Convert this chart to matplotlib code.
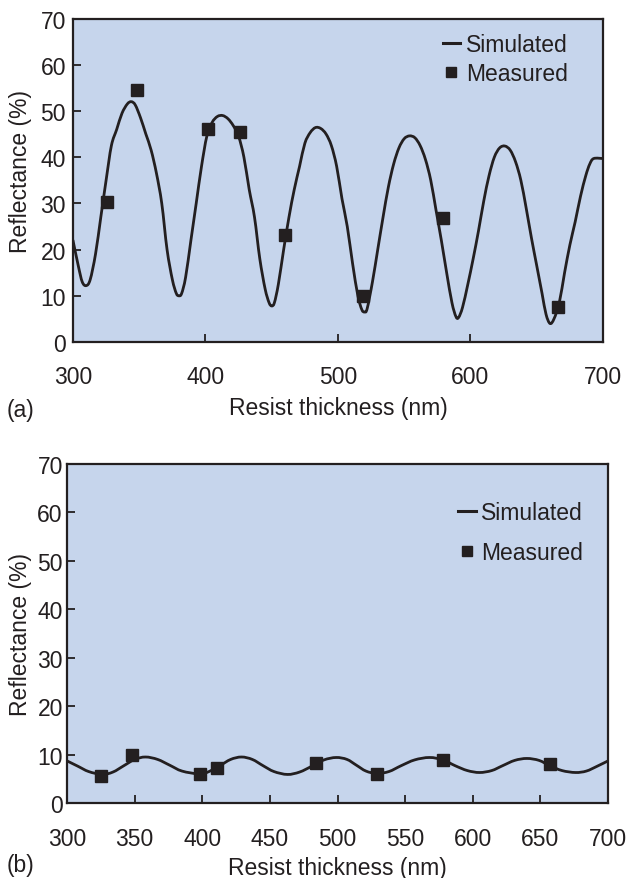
import numpy as np
import matplotlib
matplotlib.use('Agg')
import matplotlib.pyplot as plt
from matplotlib.path import Path
from matplotlib.patches import PathPatch
from matplotlib.lines import Line2D

plt.rcParams['font.family'] = ['Liberation Sans', 'DejaVu Sans']

# (a) uncoated resist: simulated curve
sim_a_x = [300, 304, 307, 310, 313, 317, 321, 325, 329, 333, 337, 341, 344, 347, 351, 355,
           359, 363, 367, 371, 375, 378, 380, 382, 385, 389, 393, 397, 401, 405, 409, 413,
           417, 421, 425, 429, 433, 437, 441, 445, 448, 450, 452, 455, 459, 463, 467, 471,
           475, 479, 483, 487, 491, 495, 499, 503, 507, 511, 515, 518, 520, 522, 526, 530,
           534, 538, 542, 546, 550, 554, 558, 562, 566, 570, 574, 578, 582, 586, 589, 591,
           594, 598, 602, 606, 610, 614, 618, 622, 626, 630, 634, 638, 642, 646, 650, 654,
           657, 660, 663, 667, 671, 675, 679, 683, 687, 690, 693, 700]
sim_a_y = [22, 16.5, 13, 12.2, 13.5, 19, 27, 35, 42.5, 46, 49.5, 51.5, 52, 51.3, 48.5, 45,
           41.5, 36.5, 30, 20, 13.5, 10.5, 10, 10.5, 14, 22, 30, 38, 44.5, 47.5, 48.8, 49,
           48.3, 46.8, 44.5, 40, 33, 27, 18, 11.5, 8.5, 7.8, 8.5, 12.5, 20, 27, 33, 38,
           43, 45.3, 46.4, 46.2, 45, 42.5, 38, 31, 25, 17, 10, 7, 6.5, 7.2, 13, 20,
           27, 33.5, 38.5, 42, 44, 44.6, 44.2, 42.5, 39.5, 35, 28.5, 22, 15, 8.5, 5.5, 5.3,
           7.5, 12.5, 18, 24, 30.5, 36, 40, 42, 42.4, 41.5, 39, 35, 29, 22.5, 16.5, 10.5,
           6, 4, 5, 8.5, 15, 21, 26, 31.5, 36, 38.5, 39.7, 39.7]
meas_a_x = [326, 348, 402, 426, 460, 519, 579, 666]
meas_a_y = [30.2, 54.5, 46, 45.5, 23.2, 10, 26.8, 7.5]

# (b) with anti-reflective coating
sim_b_x = [300, 308, 316, 326, 334, 342, 350, 358, 367, 376, 385, 398, 405, 413, 421, 429,
           437, 445, 453, 463, 472, 481, 490, 499, 507, 514, 521, 529, 538, 547, 557, 568,
           578, 587, 596, 605, 614, 622, 631, 640, 649, 657, 666, 676, 684, 692, 700]
sim_b_y = [8.7, 7.6, 6.5, 5.9, 6.4, 7.7, 9.0, 9.5, 9.0, 7.8, 6.6, 6.0, 6.5, 7.7, 9.0, 9.5,
           9.0, 7.7, 6.5, 5.9, 6.4, 7.6, 8.9, 9.4, 9.0, 7.8, 6.6, 6.1, 6.5, 7.7, 8.9, 9.4,
           8.9, 7.7, 6.7, 6.3, 6.7, 7.7, 8.8, 9.2, 8.8, 7.7, 6.7, 6.3, 6.6, 7.6, 8.7]
meas_b_x = [325, 348, 398, 411, 484, 529, 578, 657]
meas_b_y = [5.5, 9.9, 5.9, 7.2, 8.3, 6.0, 8.9, 8.1]

bg = '#c6d5ec'
ink = '#231f20'
fs = 16.5


def smooth_path(xs, ys):
    # catmull-rom style bezier through the points, drawn by matplotlib
    p = np.column_stack([xs, ys]).astype(float)
    p = np.vstack([p[0], p, p[-1]])
    verts = [p[1]]
    codes = [Path.MOVETO]
    for i in range(1, len(p) - 2):
        c1 = p[i] + (p[i + 1] - p[i - 1]) / 6
        c2 = p[i + 1] - (p[i + 2] - p[i]) / 6
        verts += [c1, c2, p[i + 1]]
        codes += [Path.CURVE4] * 3
    return Path(verts, codes)


fig = plt.figure(figsize=(6.28, 8.79), dpi=100)
ax1 = fig.add_axes([0.1162, 0.6098, 0.844, 0.368])
ax2 = fig.add_axes([0.1067, 0.0853, 0.8615, 0.3857])


def style(ax, xticks, xpad, ypad):
    ax.set_facecolor(bg)
    ax.set_xlim(300, 700)
    ax.set_ylim(0, 70)
    ax.set_xticks(xticks)
    ax.set_yticks(range(0, 71, 10))
    ax.tick_params(axis='x', direction='in', length=6, width=1.3, colors=ink,
                   labelsize=fs, pad=xpad)
    ax.tick_params(axis='y', direction='in', length=6, width=1.3, colors=ink,
                   labelsize=fs, pad=ypad)
    for s in ax.spines.values():
        s.set_linewidth(1.6)
        s.set_color(ink)
    ax.set_xlabel('Resist thickness (nm)', fontsize=fs, color=ink)
    ax.set_ylabel('Reflectance (%)', fontsize=fs, color=ink)


def draw(ax, sx, sy, mx, my):
    ax.add_patch(PathPatch(smooth_path(sx, sy), facecolor='none', edgecolor=ink,
                           lw=2, capstyle='round', joinstyle='round'))
    ax.plot(mx, my, 's', color=ink, ms=8)


handles = [Line2D([], [], color=ink, lw=2.2),
           Line2D([], [], marker='s', ls='none', color=ink, ms=6.5)]
labels = ['Simulated', 'Measured']

style(ax1, range(300, 701, 100), 16.5, 5)
ax1.yaxis.set_label_coords(-0.077, 0.53)
ax1.xaxis.set_label_coords(0.5, -0.168)
draw(ax1, sim_a_x, sim_a_y, meas_a_x, meas_a_y)
ax1.legend(handles, labels, loc='upper right', bbox_to_anchor=(0.955, 0.992),
           frameon=False, fontsize=fs, handlelength=0.75, handletextpad=0.25,
           labelspacing=0.3, borderpad=0, labelcolor=ink)

style(ax2, range(300, 701, 50), 17, 3)
ax2.yaxis.set_label_coords(-0.065, 0.5)
ax2.xaxis.set_label_coords(0.5, -0.155)
draw(ax2, sim_b_x, sim_b_y, meas_b_x, meas_b_y)
ax2.legend(handles, labels, loc='upper right', bbox_to_anchor=(0.974, 0.926),
           frameon=False, fontsize=fs, handlelength=0.75, handletextpad=0.22,
           labelspacing=0.75, borderpad=0, labelcolor=ink)

fig.text(0.011, 1 - 411 / 879, '(a)', fontsize=fs, color=ink, va='center')
fig.text(0.011, 1 - 866 / 879, '(b)', fontsize=fs, color=ink, va='center')

fig.savefig('out.png', dpi=100)
